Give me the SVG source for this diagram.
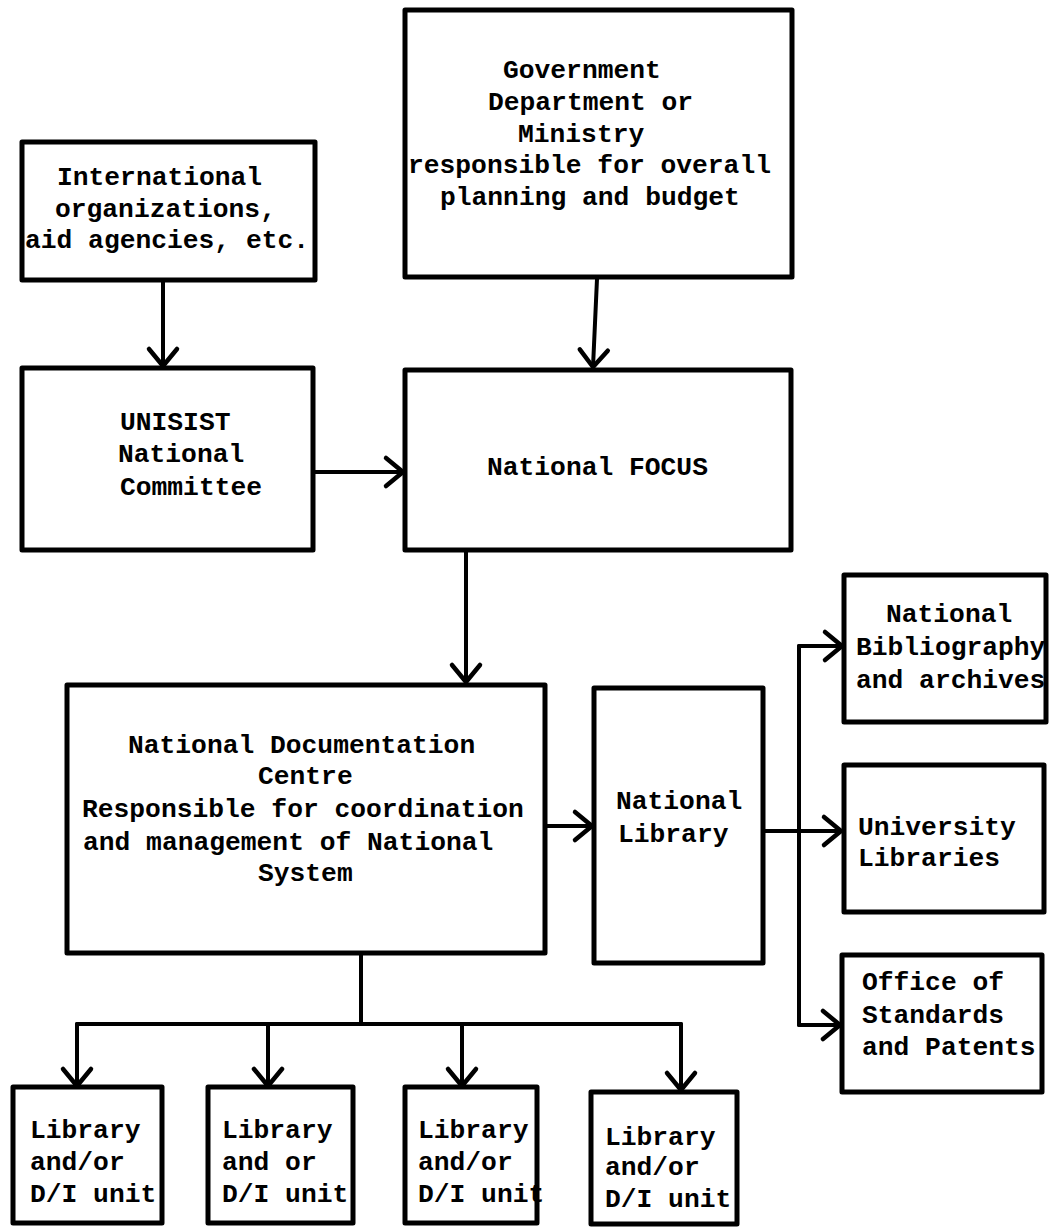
<svg xmlns="http://www.w3.org/2000/svg" width="1049" height="1227" viewBox="0 0 1049 1227">
<style>
.box{fill:#fff;stroke:#000;stroke-width:5;stroke-linejoin:round}
.t{font-family:"Liberation Mono","Courier New",monospace;font-weight:bold;font-size:26.3px;fill:#000}
.c{fill:none;stroke:#000;stroke-width:4;stroke-linecap:round}
</style>
<defs>
<marker id="ah" viewBox="-20 -16 24 32" refX="0" refY="0" markerWidth="24" markerHeight="32" markerUnits="userSpaceOnUse" orient="auto" overflow="visible">
<path d="M-17,-14 L0,0 L-17,14" fill="none" stroke="#000" stroke-width="4.5" stroke-linecap="round" stroke-linejoin="round"/>
</marker>
</defs>
<rect width="1049" height="1227" fill="#fff"/>
<g id="connectors">
<path class="c" d="M163,281 L163,366" marker-end="url(#ah)"/>
<path class="c" d="M597,279 L593,367" marker-end="url(#ah)"/>
<path class="c" d="M313,472 L403,472" marker-end="url(#ah)"/>
<path class="c" d="M466,551 L466,682" marker-end="url(#ah)"/>
<path class="c" d="M545,826 L592,826" marker-end="url(#ah)"/>
<path class="c" d="M763,831 L841,831" marker-end="url(#ah)"/>
<path class="c" d="M799,646 L799,1025"/>
<path class="c" d="M799,646 L842,646" marker-end="url(#ah)"/>
<path class="c" d="M799,1025 L840,1025" marker-end="url(#ah)"/>
<path class="c" d="M361,953 L361,1024"/>
<path class="c" d="M77,1024 L681,1024"/>
<path class="c" d="M77,1024 L77,1086" marker-end="url(#ah)"/>
<path class="c" d="M268,1024 L268,1086" marker-end="url(#ah)"/>
<path class="c" d="M462,1024 L462,1086" marker-end="url(#ah)"/>
<path class="c" d="M681,1024 L681,1090" marker-end="url(#ah)"/>
</g>
<g id="international">
<rect class="box" x="22" y="142" width="293" height="138"/>
<text class="t" x="57" y="185">International</text>
<text class="t" x="55" y="217">organizations,</text>
<text class="t" x="25" y="248">aid agencies, etc.</text>
</g>
<g id="government">
<rect class="box" x="405" y="10" width="387" height="267"/>
<text class="t" x="503" y="78">Government</text>
<text class="t" x="488" y="110">Department or</text>
<text class="t" x="518" y="142">Ministry</text>
<text class="t" x="408" y="173">responsible for overall</text>
<text class="t" x="440" y="205">planning and budget</text>
</g>
<g id="unisist">
<rect class="box" x="22" y="368" width="291" height="182"/>
<text class="t" x="120" y="430">UNISIST</text>
<text class="t" x="118" y="462">National</text>
<text class="t" x="120" y="495">Committee</text>
</g>
<g id="focus">
<rect class="box" x="405" y="370" width="386" height="180"/>
<text class="t" x="487" y="475">National FOCUS</text>
</g>
<g id="ndc">
<rect class="box" x="67" y="685" width="478" height="268"/>
<text class="t" x="128" y="753">National Documentation</text>
<text class="t" x="258" y="784">Centre</text>
<text class="t" x="82" y="817">Responsible for coordination</text>
<text class="t" x="83" y="850">and management of National</text>
<text class="t" x="258" y="881">System</text>
</g>
<g id="national-library">
<rect class="box" x="594" y="688" width="169" height="275"/>
<text class="t" x="616" y="809">National</text>
<text class="t" x="618" y="842">Library</text>
</g>
<g id="bibliography">
<rect class="box" x="844" y="575" width="202" height="147"/>
<text class="t" x="886" y="622">National</text>
<text class="t" x="856" y="655">Bibliography</text>
<text class="t" x="856" y="688">and archives</text>
</g>
<g id="university">
<rect class="box" x="844" y="765" width="200" height="147"/>
<text class="t" x="858" y="835">University</text>
<text class="t" x="858" y="866">Libraries</text>
</g>
<g id="standards">
<rect class="box" x="842" y="955" width="200" height="137"/>
<text class="t" x="862" y="990">Office of</text>
<text class="t" x="862" y="1023">Standards</text>
<text class="t" x="862" y="1055">and Patents</text>
</g>
<g id="unit1">
<rect class="box" x="13" y="1087" width="149" height="136"/>
<text class="t" x="30" y="1138">Library</text>
<text class="t" x="30" y="1170">and/or</text>
<text class="t" x="30" y="1202">D/I unit</text>
</g>
<g id="unit2">
<rect class="box" x="208" y="1087" width="145" height="136"/>
<text class="t" x="222" y="1138">Library</text>
<text class="t" x="222" y="1170">and or</text>
<text class="t" x="222" y="1202">D/I unit</text>
</g>
<g id="unit3">
<rect class="box" x="405" y="1087" width="132" height="136"/>
<text class="t" x="418" y="1138">Library</text>
<text class="t" x="418" y="1170">and/or</text>
<text class="t" x="418" y="1202">D/I unit</text>
</g>
<g id="unit4">
<rect class="box" x="591" y="1092" width="146" height="132"/>
<text class="t" x="605" y="1145">Library</text>
<text class="t" x="605" y="1175">and/or</text>
<text class="t" x="605" y="1207">D/I unit</text>
</g>
</svg>
